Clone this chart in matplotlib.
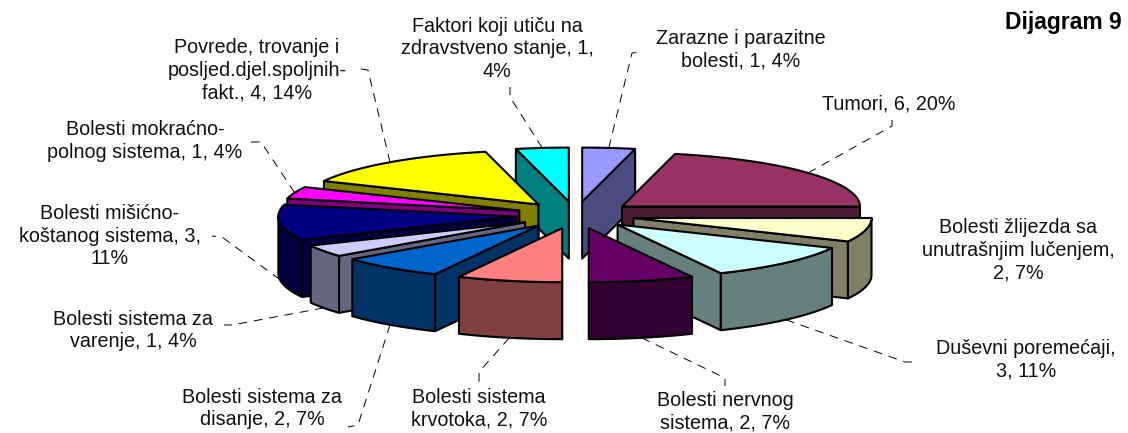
import numpy as np
import matplotlib
matplotlib.use("Agg")
import matplotlib.pyplot as plt
from matplotlib.patches import Polygon

plt.rcParams['font.family'] = ['Liberation Sans', 'DejaVu Sans']

# ---- data (clockwise from 12 o'clock) ----
categories = ["Zarazne i parazitne\nbolesti", "Tumori",
              "Bolesti žlijezda sa\nunutrašnjim lučenjem",
              "Duševni poremećaji", "Bolesti nervnog\nsistema",
              "Bolesti sistema\nkrvotoka", "Bolesti sistema za\ndisanje",
              "Bolesti sistema za\nvarenje", "Bolesti mišićno-\nkoštanog sistema",
              "Bolesti mokraćno-\npolnog sistema",
              "Povrede, trovanje i\nposljed.djel.spoljnih-\nfakt.",
              "Faktori koji utiču na\nzdravstveno stanje"]
values = [1, 6, 2, 3, 2, 2, 2, 1, 3, 1, 4, 1]
percents = [4, 20, 7, 11, 7, 7, 7, 4, 11, 4, 14, 4]
# text placed before the value and before the percentage in each label
value_lead = [" ", " ", "\n", "\n", " ", " ", " ", " ", " ", " ", " ", " "]
value_breaks = [" ", " ", " ", " ", " ", " ", " ", " ", "\n", " ", " ", "\n"]

# ---- styles ----
top_colors = ["#9999FF", "#993366", "#FFFFCC", "#CCFFFF", "#660066", "#FF8080",
              "#0066CC", "#CCCCFF", "#000080", "#FF00FF", "#FFFF00", "#00FFFF"]
side_colors = ["#4C4C80", "#4C1A33", "#808066", "#668080", "#330033", "#804040",
               "#003366", "#666680", "#000040", "#800080", "#808000", "#008080"]

# ---- layout (pixel scale of the figure) ----
CX, CY = 575.5, 215.0      # pie centre
RX, RY = 238.0, 54.0       # ellipse radii
DEPTH = 57.0               # wall height
EXPLODE = 0.25             # explosion as a fraction of the radius
label_xy = [(741, 50), (889, 104), (1018, 250), (1026, 360), (725, 411.5), (479, 408.5),
            (262, 408.5), (133, 330.5), (110, 236), (145, 141), (257, 70), (497, 49)]
leader_elbows = [[(632, 53), (642, 52)], [(892, 126), (892, 116)], None,
                 [(905, 362), (916, 362)], [(725, 378), (725, 386)],
                 [(479, 372), (479, 384)], [(358, 425), (348, 427)],
                 [(232, 325), (224, 325)], [(222, 237), (212, 236)],
                 [(261, 142), (250, 142)], [(368, 70), (355, 68)],
                 [(510, 97), (510, 87)]]

fig = plt.figure(figsize=(11.28, 4.33), dpi=100)
ax = fig.add_axes([0, 0, 1, 1])
ax.set_xlim(0, 1128)
ax.set_ylim(433, 0)
ax.axis("off")

fractions = np.array(values, dtype=float) / sum(values)
edges = np.concatenate([[0.0], np.cumsum(fractions)]) * 2 * np.pi
mids = (edges[:-1] + edges[1:]) / 2
tips_x = CX + EXPLODE * RX * np.sin(mids)
tips_y = CY - EXPLODE * RY * np.cos(mids)


def rim(tx, ty, t):
    return np.column_stack([tx + RX * np.sin(t), ty - RY * np.cos(t)])


EDGE = dict(edgecolor="black", linewidth=1.5, joinstyle="round")
order = np.argsort(-np.cos(mids), kind="stable")
z = 3
for i in order:
    t0, t1 = edges[i], edges[i + 1]
    tip = np.array([tips_x[i], tips_y[i]])
    ts = np.linspace(t0, t1, 60)
    arc = rim(tip[0], tip[1], ts)
    down = np.array([0, DEPTH])
    # radial wall facing the viewer
    if np.sin(t1) > 1e-6:
        p = rim(tip[0], tip[1], np.array([t1]))[0]
        ax.add_patch(Polygon([tip, p, p + down, tip + down], facecolor=side_colors[i], zorder=z, **EDGE))
    if np.sin(t0) < -1e-6:
        p = rim(tip[0], tip[1], np.array([t0]))[0]
        ax.add_patch(Polygon([tip, p, p + down, tip + down], facecolor=side_colors[i], zorder=z, **EDGE))
    # curved outer wall facing the viewer
    lo, hi = max(t0, np.pi / 2), min(t1, 3 * np.pi / 2)
    if hi > lo:
        wall = rim(tip[0], tip[1], np.linspace(lo, hi, 60))
        ax.add_patch(Polygon(np.vstack([wall, (wall + down)[::-1]]), facecolor=side_colors[i], zorder=z, **EDGE))
    # top face
    ax.add_patch(Polygon(np.vstack([tip, arc]), facecolor=top_colors[i], zorder=z, **EDGE))
    z += 1

# leader lines start on the slice rim at its middle angle
for i, elbow in enumerate(leader_elbows):
    if elbow is None:
        continue
    start = rim(tips_x[i], tips_y[i], np.array([mids[i]]))[0]
    if np.cos(mids[i]) < 0:
        start = start + np.array([0, DEPTH])
    pts = np.vstack([start, elbow])
    ax.plot(pts[:, 0], pts[:, 1], color="black", lw=0.7, dashes=(9, 7), zorder=1)

# labels
for i, (x, y) in enumerate(label_xy):
    txt = f"{categories[i]},{value_lead[i]}{values[i]},{value_breaks[i]}{percents[i]}%"
    ax.text(x, y, txt, ha="center", va="center", fontsize=14.2, linespacing=1.24,
            color="#111111", zorder=50)

ax.text(1122, 23, "Dijagram 9", ha="right", va="center", fontsize=16.5,
        fontweight="bold", color="black", zorder=50)

fig.savefig("out.png", dpi=100, facecolor="white")
